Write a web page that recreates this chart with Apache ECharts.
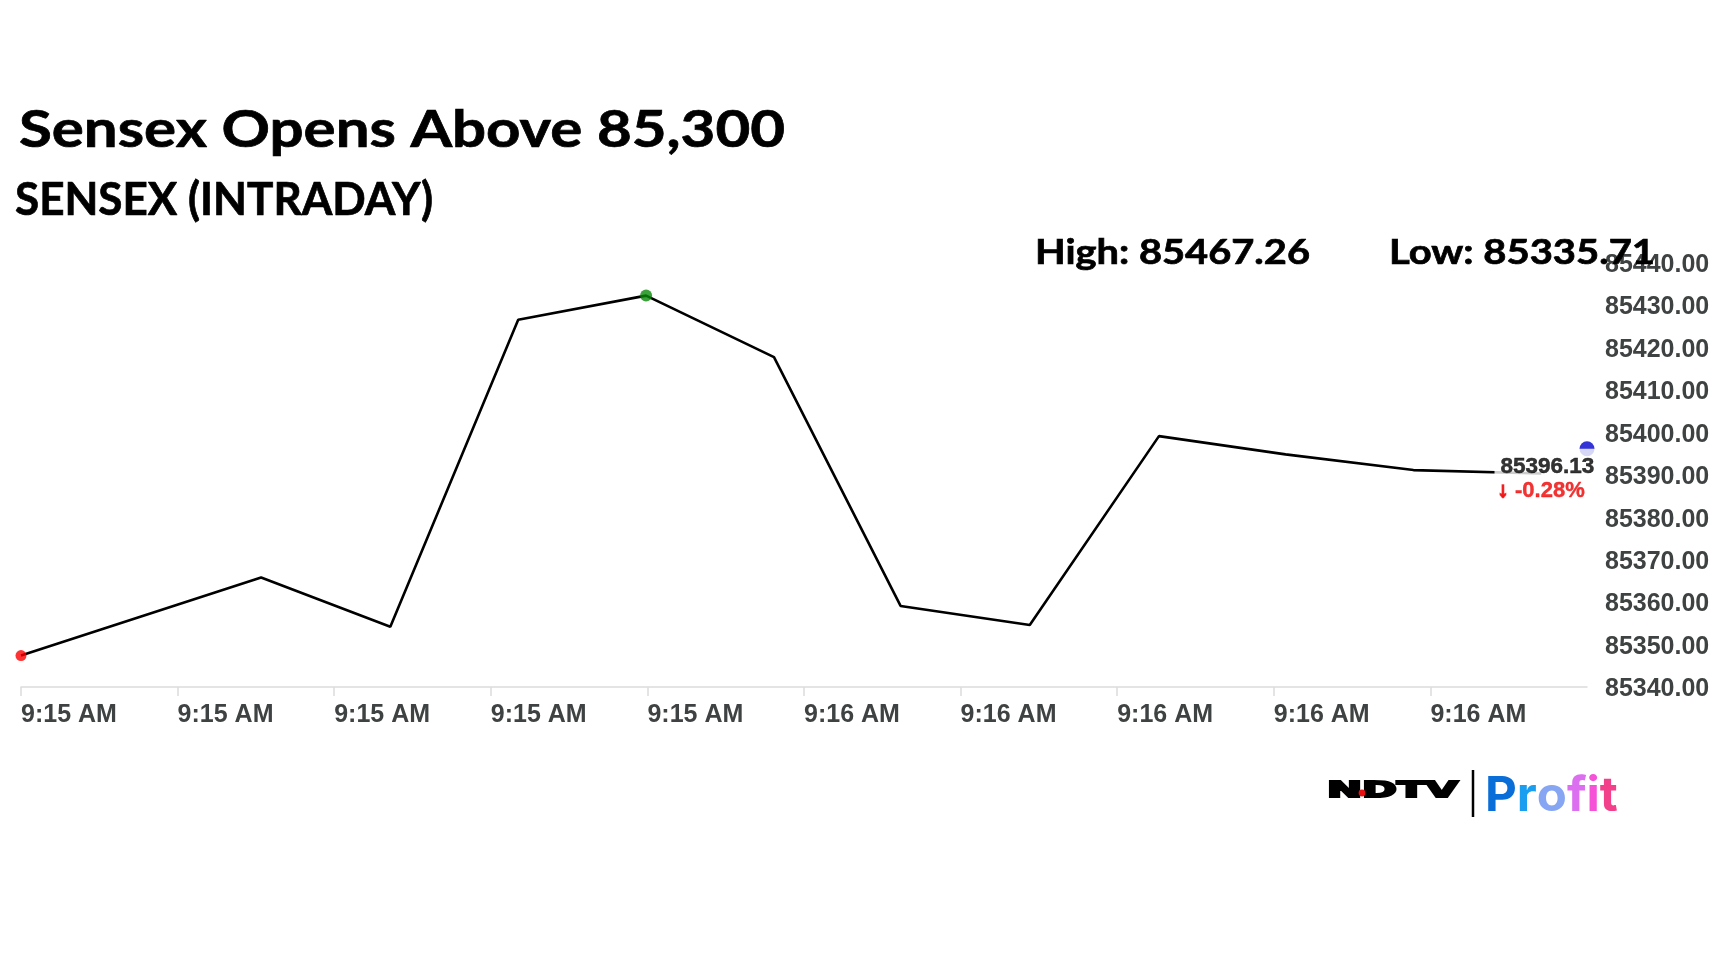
<!DOCTYPE html>
<html><head><meta charset="utf-8">
<script src="https://cdn.jsdelivr.net/npm/echarts@6/dist/echarts.min.js"></script>
<style>html,body{margin:0;padding:0;background:#fff}#c{width:1728px;height:972px}</style>
</head><body><div id="c"></div>
<script>
// ---------- data ----------
const titleText = 'Sensex Opens Above 85,300';
const subtitleText = 'SENSEX (INTRADAY)';
const dayHigh = 85467.26;
const dayLow = 85335.71;
const times = ['09:15:00.0','09:15:18.4','09:15:28.3','09:15:38.1','09:15:47.9','09:15:57.7',
               '09:16:07.4','09:16:17.3','09:16:27.2','09:16:36.9','09:16:46.7','09:16:56.5'];
const values = [85347.4, 85365.8, 85354.2, 85426.5, 85432.2, 85417.7,
                85359.1, 85354.6, 85399.1, 85394.8, 85391.1, 85390.3];
const lastTime = '09:17:00.0';
const lastPrice = 85396.13;
const changePct = -0.28;
const xStart = '09:15:00', xEnd = '09:17:00', xTickSeconds = 12;
const yMin = 85340, yMax = 85440, yStep = 10;

// ---------- helpers ----------
function toSec(t){ const p = t.split(':'); return (+p[0])*3600 + (+p[1])*60 + parseFloat(p[2]); }
function fmtTime(v){ const h = Math.floor(v/3600), m = Math.floor((v%3600)/60);
  const ap = h < 12 ? 'AM' : 'PM'; const h12 = h % 12 || 12;
  return h12 + ':' + String(m).padStart(2,'0') + ' ' + ap; }
const mctx = document.createElement('canvas').getContext('2d');
function fit(text, weight, size, family, width){ mctx.font = weight + ' ' + size + 'px ' + family; return width / mctx.measureText(text).width; }

const lineData = times.map((t,i) => [toSec(t), values[i]]);
let maxIdx = 0; values.forEach((v,i) => { if (v > values[maxIdx]) maxIdx = i; });

const CAL = 'Lato';
function calText(text, x, y, size, width){
  return { type:'text', x:x, y:y, scaleX: fit(text,'bold',size,CAL,width), z: 10,
    style:{ text:text, fontFamily:CAL, fontWeight:'bold', fontSize:size, fill:'#000', align:'left', verticalAlign:'middle',
      stroke:'#000', lineWidth:0.7 } };
}
const highText = 'High: ' + dayHigh.toFixed(2);
const lowText = 'Low: ' + dayLow.toFixed(2);
const profitColors = ['#0a6ed8','#1a9eef','#86a6f4','#dc6ff0','#f552d8','#f2408a'];
const profitRich = {}; 'Profit'.split('').forEach((c,i)=>{ profitRich['c'+i] = { fill: profitColors[i], fontFamily:'Inter', fontWeight:'bold', fontSize:48 }; });
const profitText = 'Profit'.split('').map((c,i)=>'{c'+i+'|'+c+'}').join('');

const chart = echarts.init(document.getElementById('c'), null, { renderer:'canvas' });
chart.setOption({
  animation:false,
  backgroundColor:'#fff',
  grid:{ left:21, right:141, top:262.5, bottom:285, containLabel:false },
  xAxis:{ type:'value', min: toSec(xStart), max: toSec(xEnd), interval: xTickSeconds,
    axisLine:{ show:true, lineStyle:{ color:'#dcdcdc', width:1.5 } },
    axisTick:{ show:true, length:9, lineStyle:{ color:'#dcdcdc', width:1.5 } },
    splitLine:{ show:false },
    axisLabel:{ showMaxLabel:false, align:'left', margin:16, formatter: fmtTime,
      color:'#3f4242', fontFamily:'Liberation Sans', fontWeight:'bold', fontSize:25 } },
  yAxis:{ type:'value', position:'right', min:yMin, max:yMax, interval:yStep, scale:true,
    axisLine:{ show:false }, axisTick:{ show:false }, splitLine:{ show:false },
    axisLabel:{ margin:18, formatter: v => '{v|' + v.toFixed(2) + '}',
      rich:{ v:{ color:'#3f4242', fontFamily:'Liberation Sans', fontWeight:'bold', fontSize:25, padding:[5,0,0,0] } },
      color:'#3f4242', fontFamily:'Liberation Sans', fontWeight:'bold', fontSize:25 } },
  series:[
    { type:'line', data: lineData, showSymbol:false, symbol:'none', z:2,
      lineStyle:{ color:'#000', width:2.6 } },
    { type:'scatter', z:3, symbolSize:11, itemStyle:{ color:'#ff0000' },
      data:[ lineData[0] ] },
    { type:'scatter', z:3, symbolSize:12, itemStyle:{ color:'#0a8a0a' },
      data:[ lineData[maxIdx] ] },
    { type:'scatter', z:4, symbolSize:15, itemStyle:{ color:'#0000cc' },
      data:[ [toSec(lastTime), lastPrice] ],
      label:{ show:true, position:[-85, 7.5], align:'left', verticalAlign:'top',
        backgroundColor:'#fff', padding:[6,3,8,3],
        formatter: () => '{a|' + lastPrice.toFixed(2) + '}\n{c|\u2193}{s| }{b|' + changePct.toFixed(2) + '%}',
        rich:{ a:{ fontFamily:'Liberation Sans', fontWeight:'bold', fontSize:22.5, color:'#000', lineHeight:24, padding:[0,0,0,3],
                   textBorderColor:'#000', textBorderWidth:0.5 },
               c:{ fontFamily:'Liberation Sans', fontWeight:'bold', fontSize:21, color:'#ee0000', lineHeight:25,
                   textBorderColor:'#ee0000', textBorderWidth:1.8 },
               s:{ fontSize:21, lineHeight:25, width:7 },
               b:{ fontFamily:'Liberation Sans', fontWeight:'bold', fontSize:22, color:'#ee0000', lineHeight:25,
                   textBorderColor:'#ee0000', textBorderWidth:0.4 } } } }
  ],
  graphic:[
    calText(titleText, 19, 130.2, 52, 766),
    calText(subtitleText, 15, 200.5, 46, 418),
    calText(highText, 1035, 253, 35, 275),
    calText(lowText, 1389, 253, 35, 266),
    { type:'text', x:1327, y:791, scaleX: fit('NDTV','bold',22,'DejaVu Sans',131), z:10,
      style:{ text:'NDTV', fontFamily:'DejaVu Sans', fontWeight:'bold', fontSize:22, fill:'#000', align:'left', verticalAlign:'middle',
        stroke:'#000', lineWidth:2 } },
    { type:'circle', z:11, shape:{ cx:1362, cy:793, r:3.4 }, style:{ fill:'#e81010' } },
    { type:'line', z:10, shape:{ x1:1473, y1:770, x2:1473, y2:817 }, style:{ stroke:'#000', lineWidth:2.5 } },
    { type:'text', x:1485, y:796.5, scaleX: fit('Profit','bold',48,'Inter',132), z:10,
      style:{ text: profitText, rich: profitRich, fontFamily:'Inter', fontWeight:'bold', fontSize:48, align:'left', verticalAlign:'middle' } }
  ]
});
</script></body></html>
